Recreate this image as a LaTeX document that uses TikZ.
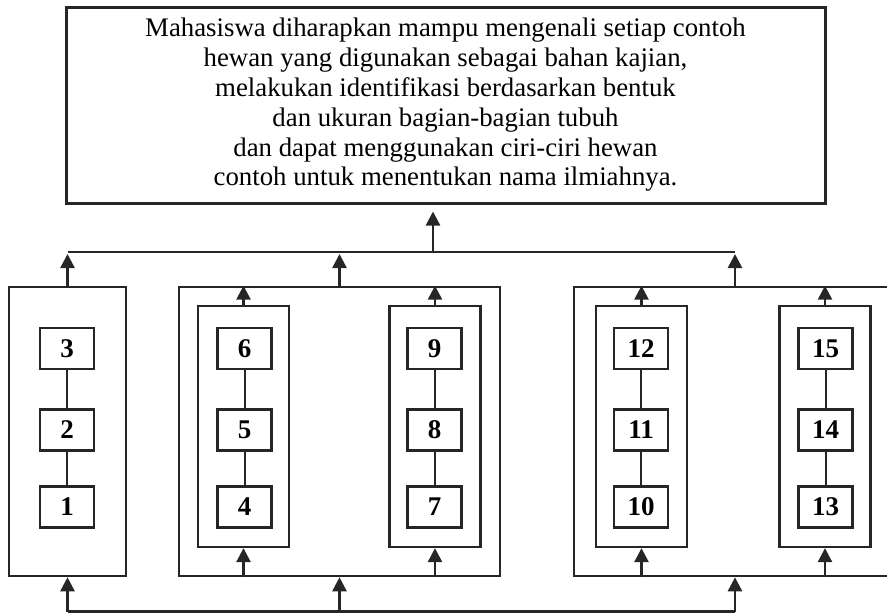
\documentclass[tikz,border=0pt]{standalone}
\usepackage{fontspec}
\setmainfont{Liberation Serif}
\usepackage{tikz}
\usetikzlibrary{arrows.meta,positioning,calc}

\tikzset{
  line/.style={draw=black!85, line width=2.6pt},
  arr/.style={line, -{Triangle[width=14pt,length=14pt]}},
  goalbox/.style={line, line width=3pt, minimum width=759pt, minimum height=196pt,
    align=center, font=\fontsize{26.8}{29.8}\selectfont},
  grp/.style={line, minimum width=#1, minimum height=289pt},
  subgrp/.style={line, line width=2.3pt, minimum width=91pt, minimum height=241pt},
  num/.style={line, line width=2.3pt, minimum width=54pt, minimum height=41pt,
    inner sep=0pt, font=\fontsize{27}{27}\selectfont\bfseries}
}

\begin{document}
\begin{tikzpicture}[x=1pt,y=-1pt]
    \clip (0,0) rectangle (887,613);

    % Goal
    \node[goalbox] (goal) at (445.5,105) {Mahasiswa diharapkan mampu mengenali setiap contoh\\
      hewan yang digunakan sebagai bahan kajian,\\
      melakukan identifikasi berdasarkan bentuk\\
      dan ukuran bagian-bagian tubuh\\
      dan dapat menggunakan ciri-ciri hewan\\
      contoh untuk menentukan nama ilmiahnya.};

    % Outer groups
    \node[grp=117pt] (grpA) at (67.5,431.5) {};
    \node[grp=321pt] (grpB) at (339.5,431.5) {};
    \node[grp=322pt] (grpC) at (735,431.5) {};

    % Inner groups
    \node[subgrp] (sub1) at (243.5,426.5) {};
    \node[subgrp] (sub2) at (435,426.5) {};
    \node[subgrp] (sub3) at (641.5,426.5) {};
    \node[subgrp] (sub4) at (825,426.5) {};

    % Numbered boxes
    \foreach \x/\a/\b/\c in {67/1/2/3, 244.5/4/5/6, 434.5/7/8/9, 641/10/11/12, 825.5/13/14/15} {
        \node[num] (n\c) at (\x,348.5) {\c};
        \node[num] (n\b) at (\x,430) {\b};
        \node[num] (n\a) at (\x,507) {\a};
        \draw[line, line width=2pt] (n\c) -- (n\b);
        \draw[line, line width=2pt] (n\b) -- (n\a);
    }

    % Buses
    \coordinate (topbus) at (0,252);
    \coordinate (botbus) at (0,611.5);
    \coordinate (up) at (433,252);

    \draw[line] (grpA.north |- topbus) -- (grpC.north |- topbus);
    \draw[line] (grpA.south |- botbus) -- (grpC.south |- botbus);
    \draw[arr, shorten >=7pt] (up) -- (up |- goal.south);

    % Outer arrows
    \foreach \g in {grpA,grpB,grpC} {
        \draw[arr, shorten >=2pt] (\g.north) -- (\g.north |- topbus);
        \draw[arr] (\g.south |- botbus) -- (\g.south);
    }

    % Inner arrows
    \foreach \s/\g in {sub1/grpB, sub2/grpB, sub3/grpC, sub4/grpC} {
        \draw[arr] (\s.north) -- (\s.north |- \g.north);
        \draw[arr] (\s.south |- \g.south) -- (\s.south);
    }
\end{tikzpicture}
\end{document}
